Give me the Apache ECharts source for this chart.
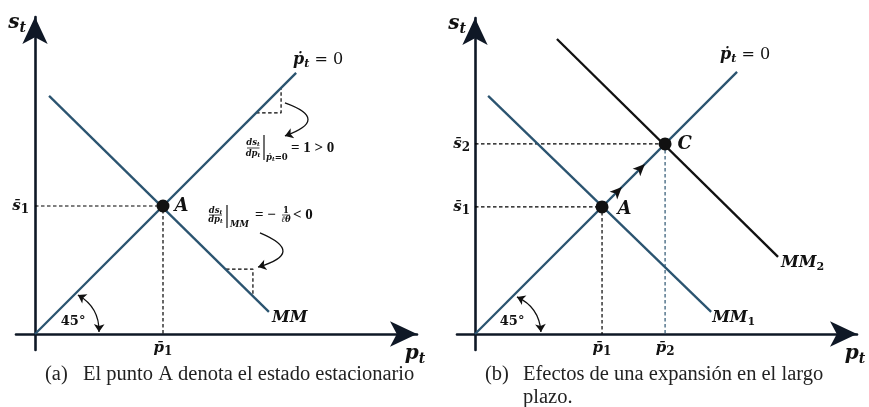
<!DOCTYPE html>
<html><head><meta charset="utf-8">
<script src="https://cdn.jsdelivr.net/npm/echarts@6.0.0/dist/echarts.min.js"></script>
<style>html,body{margin:0;padding:0;background:#fff}#c{width:869px;height:407px}</style>
</head><body><div id="c"></div>
<script>
// ---------- data (diagram units) ----------
// Panel (a)
const aLine45 = [[0, 0], [8.16, 8.16]];
const aLineMM = [[0.44, 7.44], [7.31, 0.69]];
const aPointA = [[4, 4]];
const aGuide = [[0, 4], [4, 4], [4, 0]];
const aTriUp = [[6.91, 6.91], [7.69, 6.91], [7.69, 7.69]];
const aTriLow = [[5.97, 2.03], [6.81, 2.03], [6.81, 1.19]];
const aArrowUp = [[7.81, 7.22], [7.81, 6.19]];
const aArrowLow = [[7.03, 3.16], [6.97, 2.09]];
const aArc = [[1.34, 1.22], [2.0, 0.06]];
const aTicksP = [4];
const aTicksPLabels = ['{b|p̄}{n|1}'];
const aTicksS = [4];
const aTicksSLabels = ['{b|s̄}{n|1}'];
const aFormulaUp = [6.625, 5.8125];
const aFormulaLow = [5.4375, 3.71875];
const aAngleLabel = [1.19, 0.375];

// Panel (b)
const bLine45 = [[0, 0], [8.19, 8.19]];
const bLineMM1 = [[0.41, 7.44], [7.38, 0.69]];
const bLineMM2 = [[2.56, 9.22], [9.47, 2.41]];
const bPointA = [[3.97, 3.97]];
const bPointC = [[5.94, 5.94]];
const bGuideA = [[0, 3.97], [3.97, 3.97], [3.97, 0]];
const bGuideCh = [[0, 5.94], [5.94, 5.94]];
const bGuideCv = [[5.94, 5.94], [5.94, 0]];
const bPathArrows = [[4.59, 4.59], [5.31, 5.31]];
const bArc = [[1.31, 1.16], [2.06, 0.06]];
const bTicksP = [3.97, 5.94];
const bTicksPLabels = ['{b|p̄}{n|1}', '{b|p̄}{n|2}'];
const bTicksS = [3.97, 5.94];
const bTicksSLabels = ['{b|s̄}{n|1}', '{b|s̄}{n|2}'];
const bAngleLabel = [1.16, 0.375];

const angleText = '45°';
const captionA = ['(a)', 'El punto A denota el estado estacionario'];
const captionB = ['(b)', 'Efectos de una expansión en el largo', 'plazo.'];

// ---------- styles ----------
const BLUE = '#2b5470';
const INK = '#111111';
const AXIS = '#0f1826';
const MATH = 'DejaVu Serif';
const TXT = 'Liberation Serif';

const richMath = {
  i: { fontFamily: MATH, fontStyle: 'italic', fontWeight: 'bold', fontSize: 16, color: INK },
  s: { fontFamily: MATH, fontStyle: 'italic', fontWeight: 'bold', fontSize: 11, color: INK, padding: [9, 0, 0, 0] },
  u: { fontFamily: MATH, fontWeight: 'bold', fontSize: 11, color: INK, padding: [9, 0, 0, 0] },
  n: { fontFamily: MATH, fontSize: 16, color: INK }
};
const richBig = {
  i: { fontFamily: MATH, fontStyle: 'italic', fontWeight: 'bold', fontSize: 20, color: INK },
  s: { fontFamily: MATH, fontStyle: 'italic', fontWeight: 'bold', fontSize: 14, color: INK, padding: [10, 0, 0, 0] }
};
const richTick = {
  b: { fontFamily: MATH, fontStyle: 'italic', fontWeight: 'bold', fontSize: 15, color: INK },
  n: { fontFamily: MATH, fontWeight: 'bold', fontSize: 12, color: INK, padding: [7, 0, 0, 0] }
};

function axes(gi, xmin, xmax, ymin, ymax, pt, ptl, st, stl, ymargin) {
  const line = { show: true, onZero: true, lineStyle: { color: AXIS, width: 2.6 },
    symbol: ['none', 'arrow'], symbolSize: [19, 27] };
  return [{
    type: 'value', gridIndex: gi, min: xmin, max: xmax,
    axisLine: line, axisTick: { show: false }, splitLine: { show: false },
    axisLabel: { show: true, customValues: pt, margin: -2, verticalAlign: 'middle',
      formatter: v => ptl[pt.indexOf(v)], rich: richTick },
    name: '{i|p}{s|t}', nameLocation: 'end', nameGap: -2,
    nameTextStyle: { align: 'center', verticalAlign: 'top', padding: [8, 0, 0, 0], rich: richBig }
  }, {
    type: 'value', gridIndex: gi, min: ymin, max: ymax,
    axisLine: line, axisTick: { show: false }, splitLine: { show: false },
    axisLabel: { show: true, customValues: st, margin: ymargin,
      formatter: v => stl[st.indexOf(v)], rich: richTick },
    name: '{i|s}{s|t}', nameLocation: 'end', nameGap: -6,
    nameTextStyle: { align: 'right', verticalAlign: 'middle', padding: [0, 9, 0, 0], rich: richBig }
  }];
}
const [xa, ya] = axes(0, -0.59375, 11.9375, -0.5, 9.90625, aTicksP, aTicksPLabels, aTicksS, aTicksSLabels, -13);
const [xb, yb] = axes(1, -0.5625, 11.9375, -0.5, 9.875, bTicksP, bTicksPLabels, bTicksS, bTicksSLabels, -13);

function ln(gi, data, color, width, extra) {
  return Object.assign({ type: 'line', xAxisIndex: gi, yAxisIndex: gi, data: data, symbol: 'none',
    lineStyle: { color: color, width: width }, silent: true, z: 3 }, extra || {});
}
function dash(gi, data, color) {
  return ln(gi, data, color || '#000', 1.2, { lineStyle: { color: color || '#000', width: 1.2, type: [3.5, 2.5] }, z: 2 });
}
function endLab(fmt, offset) {
  return { endLabel: { show: true, formatter: fmt, offset: offset, distance: 0, rich: richMath } };
}
function pts(gi, data, label) {
  return { type: 'scatter', xAxisIndex: gi, yAxisIndex: gi, data: data, symbol: 'circle', symbolSize: 13,
    itemStyle: { color: INK, opacity: 1 }, z: 5, silent: true,
    label: label ? Object.assign({ show: true, position: 'right', color: INK,
      fontFamily: MATH, fontStyle: 'italic', fontWeight: 'bold', fontSize: 18 }, label) : { show: false } };
}
function curve(gi, coords, curveness, both) {
  return { type: 'lines', coordinateSystem: 'cartesian2d', xAxisIndex: gi, yAxisIndex: gi,
    data: [{ coords: coords }], symbol: both ? ['arrow', 'arrow'] : ['none', 'arrow'], symbolSize: 8,
    lineStyle: { color: INK, width: 1.3, curveness: curveness, opacity: 1 }, z: 4, silent: true };
}
const capStyle = { fontFamily: TXT, fontWeight: 'normal', fontSize: 20.5, color: '#222' };

const option = {
  animation: false,
  backgroundColor: '#fff',
  grid: [
    { left: 16, top: 17, width: 401, height: 333, containLabel: false, outerBoundsMode: 'none' },
    { left: 457, top: 18, width: 400, height: 332, containLabel: false, outerBoundsMode: 'none' }
  ],
  xAxis: [xa, xb],
  yAxis: [ya, yb],
  title: [
    { text: captionA[0], left: 45, top: 364 },
    { text: captionA[1], left: 83, top: 364 },
    { text: captionB[0], left: 485, top: 364 },
    { text: captionB[1], left: 523, top: 364 },
    { text: captionB[2], left: 523, top: 387 }
  ].map(t => Object.assign({ padding: 0, textStyle: capStyle }, t)),
  series: [
    // panel a
    dash(0, aGuide),
    dash(0, aTriUp),
    dash(0, aTriLow),
    ln(0, aLine45, BLUE, 2.3, endLab('{i|ṗ}{s|t}{n| = 0}', [-3, -13])),
    ln(0, aLineMM, BLUE, 2.3, endLab('{i|MM}', [3, 6])),
    pts(0, aPointA, { formatter: 'A', distance: 5 }),
    curve(0, aArrowUp, 1.4),
    curve(0, aArrowLow, 1.4),
    curve(0, aArc, 0.3, true),
    // panel b
    dash(1, bGuideA),
    dash(1, bGuideCh),
    dash(1, bGuideCv, BLUE),
    ln(1, bLine45, BLUE, 2.3, endLab('{i|ṗ}{s|t}{n| = 0}', [-17, -17])),
    ln(1, bLineMM1, BLUE, 2.3, endLab('{i|MM}{u|1}', [1, 6])),
    ln(1, bLineMM2, INK, 2.3, endLab('{i|MM}{u|2}', [3, 6])),
    pts(1, bPointA, { formatter: 'A', distance: 9, offset: [0, 2] }),
    pts(1, bPointC, { formatter: 'C', distance: 6 }),
    { type: 'scatter', xAxisIndex: 1, yAxisIndex: 1, data: bPathArrows, symbol: 'arrow',
      symbolSize: [8, 12], symbolRotate: -45, itemStyle: { color: INK, opacity: 1 }, z: 5, silent: true },
    curve(1, bArc, 0.3, true)
  ]
};

const chart = echarts.init(document.getElementById('c'), null, { renderer: 'canvas' });
chart.setOption(option);

// ---------- slope formulas and angle labels (annotations) ----------
const richSmall = {
  n: { fontFamily: MATH, fontStyle: 'italic', fontWeight: 'bold', fontSize: 8.5, fill: INK },
  s: { fontFamily: MATH, fontStyle: 'italic', fontWeight: 'bold', fontSize: 6, fill: INK, padding: [3, 0, 0, 0] },
  m: { fontFamily: MATH, fontWeight: 'bold', fontSize: 8.5, fill: INK }
};
function txt(x, y, text, align, extra) {
  return { type: 'text', x: x, y: y, silent: true,
    style: Object.assign({ text: text, align: align || 'center', verticalAlign: 'middle', rich: richSmall, fill: INK,
      fontFamily: MATH, fontSize: 8 }, extra || {}) };
}
function seg(x1, y1, x2, y2, w) {
  return { type: 'line', silent: true, shape: { x1: x1, y1: y1, x2: x2, y2: y2 }, style: { stroke: INK, lineWidth: w || 0.8 } };
}
const big = { fontFamily: TXT, fontSize: 15, fontWeight: 'bold', fill: INK };
const angStyle = { fontFamily: MATH, fontSize: 13, fontWeight: 'bold', fill: INK };
const p1 = chart.convertToPixel({ gridIndex: 0 }, aFormulaUp);
const p2 = chart.convertToPixel({ gridIndex: 0 }, aFormulaLow);
const q1 = chart.convertToPixel({ gridIndex: 0 }, aAngleLabel);
const q2 = chart.convertToPixel({ gridIndex: 1 }, bAngleLabel);
chart.setOption({
  graphic: [
    { type: 'group', x: p1[0], y: p1[1], children: [
      txt(6, -5, '{n|ds}{s|t}'), seg(0, 0, 12.5, 0), txt(6, 5.5, '{n|dp}{s|t}'),
      seg(17, -13, 17, 12, 1.2),
      txt(19, 10, '{n|ṗ}{s|t}{m|=0}', 'left'),
      txt(44, 0, '= 1 > 0', 'left', big)
    ] },
    { type: 'group', x: p2[0], y: p2[1], children: [
      txt(6.5, -4.5, '{n|ds}{s|t}'), seg(0, 0, 13, 0), txt(6.5, 5, '{n|dp}{s|t}'),
      seg(18, -10, 18, 13, 1.2),
      txt(21, 10, '{n|MM}', 'left'),
      txt(46, 0, '= −', 'left', big),
      txt(77, -4.5, '{m|1}'), seg(73, 0, 81, 0, 0.7), txt(77, 5, '{n|ℓθ}'),
      txt(84, 0, '< 0', 'left', big)
    ] },
    txt(q1[0], q1[1], angleText, 'center', angStyle),
    txt(q2[0], q2[1], angleText, 'center', angStyle)
  ]
});
</script></body></html>
